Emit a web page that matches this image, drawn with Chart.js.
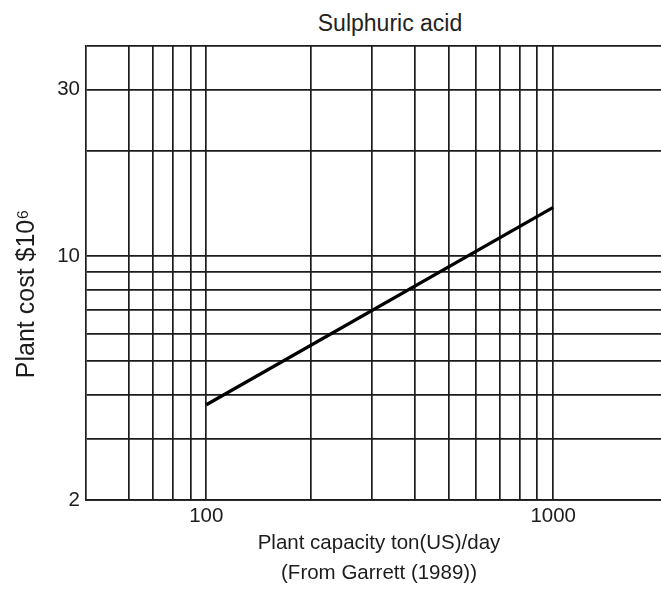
<!DOCTYPE html>
<html>
<head>
<meta charset="utf-8">
<script src="https://cdn.jsdelivr.net/npm/chart.js@4.4.1/dist/chart.umd.min.js"></script>
<style>
  body { margin: 0; background: #fff; overflow: hidden; }
  .wrap { position: relative; width: 661px; height: 592px; overflow: hidden; }
  h1 { position: absolute; top: 12px; left: 0; width: 780px; margin: 0; text-align: center;
       font: 400 23px/23px 'Liberation Sans', Arial, sans-serif; color: #222; }
  canvas { position: absolute; left: 0; top: 0; }
</style>
</head>
<body>
<div class="wrap">
  <h1>Sulphuric acid</h1>
  <canvas id="myChart" width="672" height="592"></canvas>
</div>
<script>
// ** data (log-log)
const capacity = [100, 1000]
const plantCost = [3.75, 13.8]

// ** grid lines and which ones get a label
const xTicks = [60, 70, 80, 90, 100, 200, 300, 400, 500, 600, 700, 800, 900, 1000]
const xLabels = [100, 1000]
const yTicks = [2, 3, 4, 5, 6, 7, 8, 9, 10, 20, 30, 40]
const yLabels = [2, 10, 30]

const font = "'Liberation Sans', Arial, sans-serif"
const ink = '#1c1c1c'

const ctx = document.getElementById('myChart').getContext('2d')
const myChart = new Chart(ctx, {
  type: 'scatter',
  data: {
    datasets: [
      {
        data: capacity.map((c, i) => ({ x: c, y: plantCost[i] })),
        showLine: true,
        borderColor: '#000',
        borderWidth: 3.2,
        pointRadius: 0
      }
    ]
  },
  options: {
    responsive: false,
    animation: false,
    layout: { padding: { top: 46, left: 0, right: 0, bottom: 0 } },
    plugins: { legend: { display: false }, tooltip: { enabled: false } },
    scales: {
      x: {
        type: 'logarithmic',
        min: 45,
        max: 2200,
        afterBuildTicks: axis => { axis.ticks = xTicks.map(v => ({ value: v })) },
        afterFit: axis => { axis.height = 92 },
        grid: { color: ink, lineWidth: 1.7, drawTicks: false },
        border: { color: ink, width: 1.7 },
        ticks: {
          autoSkip: false,
          maxRotation: 0,
          padding: 4,
          color: ink,
          font: { family: font, size: 20.5 },
          callback: v => (xLabels.includes(v) ? String(v) : '')
        },
        title: {
          display: true,
          text: ['Plant capacity ton(US)/day', '(From Garrett (1989))'],
          color: ink,
          padding: { top: 0, bottom: 4 },
          font: { family: font, size: 20.5, lineHeight: 1.4634 }
        }
      },
      y: {
        type: 'logarithmic',
        min: 2,
        max: 40,
        afterBuildTicks: axis => { axis.ticks = yTicks.map(v => ({ value: v })) },
        afterFit: axis => { axis.width = 86 },
        grid: { color: ink, lineWidth: 1.7, drawTicks: false },
        border: { color: ink, width: 1.7 },
        ticks: {
          autoSkip: false,
          padding: 6,
          color: ink,
          font: { family: font, size: 20.5 },
          callback: v => (yLabels.includes(v) ? String(v) : '')
        },
        title: {
          display: true,
          text: 'Plant cost $10\u2076' + '\u00a0'.repeat(6),
          color: ink,
          padding: { top: 12, bottom: 0 },
          font: { family: font, size: 25 }
        }
      }
    }
  }
})
</script>
</body>
</html>
